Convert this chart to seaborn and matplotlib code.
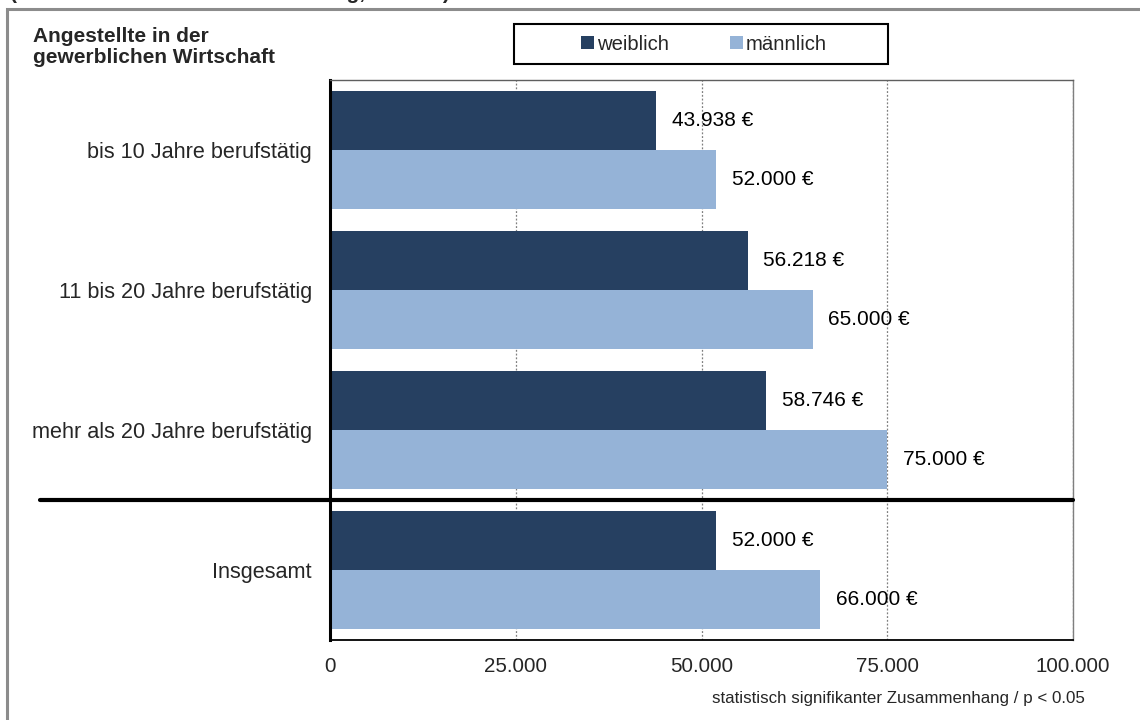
import matplotlib
matplotlib.use("Agg")
import matplotlib.pyplot as plt
import matplotlib.patches as mpatches
import matplotlib.transforms as mtransforms
import numpy as np
import pandas as pd
import seaborn as sns

# --- data -------------------------------------------------------------
categories = [
    "bis 10 Jahre berufstätig",
    "11 bis 20 Jahre berufstätig",
    "mehr als 20 Jahre berufstätig",
    "Insgesamt",
]
weiblich = [43938, 56218, 58746, 52000]
maennlich = [52000, 65000, 75000, 66000]
series_names = ["weiblich", "männlich"]
x_ticks = [0, 25000, 50000, 75000, 100000]

colors = ["#264061", "#95B3D7"]

df = pd.DataFrame({
    "Kategorie": categories * 2,
    "Wert": weiblich + maennlich,
    "Geschlecht": [series_names[0]] * len(categories) + [series_names[1]] * len(categories),
})


def de_format(v):
    return f"{v:,.0f}".replace(",", ".")


# --- styling ----------------------------------------------------------
sns.set_style("white")
plt.rcParams["font.family"] = ["Liberation Sans", "DejaVu Sans"]

W, H = 1140, 720
fig = plt.figure(figsize=(W / 100, H / 100), dpi=100)
ax = fig.add_axes([330 / W, 1 - 640 / H, (1073 - 330) / W, (640 - 80) / H])

sns.barplot(
    data=df, y="Kategorie", x="Wert", hue="Geschlecht",
    order=categories, hue_order=series_names, orient="h",
    palette=colors, saturation=1, width=0.836, linewidth=0,
    ax=ax, legend=True,
)

ax.set_xlim(0, 100000)
ax.set_ylim(len(categories) - 0.5, -0.5)
ax.set_xlabel("")
ax.set_ylabel("")

# x axis
ax.set_xticks(x_ticks)
ax.set_xticklabels([de_format(v) for v in x_ticks], fontsize=14.8)
ax.tick_params(axis="x", length=0, pad=12)
ax.xaxis.grid(True, linestyle=(0, (1.5, 1.5)), color="#7f7f7f", linewidth=0.9)
ax.yaxis.grid(False)
ax.set_axisbelow(True)

# y axis: labels at category centres, tick marks at category boundaries
ax.tick_params(axis="y", which="major", length=0, pad=13, labelsize=15.6)
ax.set_yticks(np.arange(-0.5, len(categories), 1.0), minor=True)
ax.tick_params(axis="y", which="minor", length=4, width=1, color="black", direction="out")

for side, col, lw in [("left", "black", 2.2), ("bottom", "black", 1.3),
                      ("top", "#5f5f5f", 1.0), ("right", "#7f7f7f", 1.0)]:
    ax.spines[side].set_visible(True)
    ax.spines[side].set_color(col)
    ax.spines[side].set_linewidth(lw)

# value labels
for cont, vals in zip(ax.containers, [weiblich, maennlich]):
    ax.bar_label(cont, labels=[f"{de_format(v)} €" for v in vals],
                 padding=11, fontsize=15, color="black")

# separator between the groups and the total
trans = mtransforms.blended_transform_factory(ax.transAxes, ax.transData)
ax.plot([(40 - 330) / (1073 - 330), 1.0], [2.5, 2.5], transform=trans,
        color="black", linewidth=3, clip_on=False, zorder=5)

# legend inside a framed box at the top
handles, labels = ax.get_legend_handles_labels()
ax.get_legend().remove()
fig.patches.append(mpatches.Rectangle(
    (514 / W, 1 - 64 / H), (888 - 514) / W, 40 / H,
    transform=fig.transFigure, facecolor="white", edgecolor="black",
    linewidth=1.5, zorder=3))
leg = fig.legend(handles, labels, loc="center",
                 bbox_to_anchor=(704 / W, 1 - 44 / H), ncol=2, frameon=False,
                 fontsize=14.6, handlelength=0.65, handleheight=0.65,
                 handletextpad=0.15, columnspacing=3.0)
leg.set_zorder(4)

# outer frame
fig.patches.append(mpatches.Rectangle(
    (7 / W, -0.1), 1.5, 1 - 9 / H + 0.1, transform=fig.transFigure,
    facecolor="none", edgecolor="#8c8c8c", linewidth=2.2, zorder=1))

# headline running off the top edge
fig.text(10 / W, 1 + 1 / H, "(Einkommen nach Berufserfahrung, Median)",
         fontsize=15, fontweight="bold", va="baseline", ha="left")

# panel title
fig.text(33 / W, 1 - 42 / H, "Angestellte in der", fontsize=15,
         fontweight="bold", va="baseline", ha="left")
fig.text(33 / W, 1 - 63 / H, "gewerblichen Wirtschaft", fontsize=15,
         fontweight="bold", va="baseline", ha="left")

# footnote
fig.text(1085 / W, 1 - 703 / H, "statistisch signifikanter Zusammenhang / p < 0.05",
         fontsize=12.2, va="baseline", ha="right")

fig.savefig("out.png", dpi=100, facecolor="white")
